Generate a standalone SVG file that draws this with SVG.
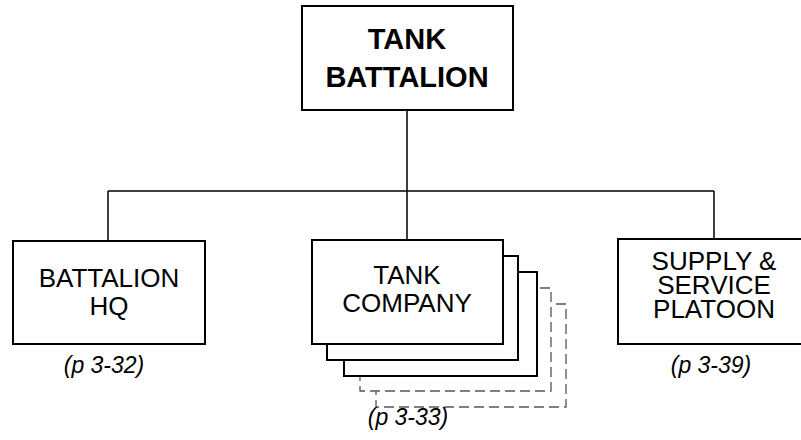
<svg xmlns="http://www.w3.org/2000/svg" width="801" height="440" viewBox="0 0 801 440">
<style>
.box{fill:#fff;stroke:#000;stroke-width:2}
.dash{fill:#fff;stroke:#555;stroke-width:1.3;stroke-dasharray:10 5}
.lbl{font-family:"Liberation Sans",Arial,sans-serif;font-size:26px;fill:#000;text-anchor:middle}
.big{font-family:"Liberation Sans",Arial,sans-serif;font-size:29px;font-weight:bold;fill:#000;text-anchor:middle}
.cap{font-family:"Liberation Sans",Arial,sans-serif;font-size:23px;font-style:italic;fill:#000;text-anchor:middle}
.conn{fill:none;stroke:#000;stroke-width:1.5}
</style>
<rect width="801" height="440" fill="#fff"/>
<g id="connectors">
<path class="conn" d="M407,110 V191 M108,191 H714 M108,191 V241 M407,191 V240 M714,191 V239"/>
</g>
<g id="tank-battalion">
<rect class="box" x="302" y="6" width="211" height="104"/>
<text class="big" x="407" y="49">TANK</text>
<text class="big" x="407" y="87">BATTALION</text>
</g>
<g id="battalion-hq">
<rect class="box" x="13" y="241" width="192" height="103"/>
<text class="lbl" x="109" y="287">BATTALION</text>
<text class="lbl" x="109" y="315">HQ</text>
<text class="cap" x="104" y="373">(p 3-32)</text>
</g>
<g id="tank-company">
<rect class="dash" x="376" y="304" width="190" height="103"/>
<rect class="dash" x="360" y="288" width="191" height="103"/>
<rect class="box" x="344" y="272" width="193" height="104"/>
<rect class="box" x="327" y="256" width="191" height="104"/>
<rect class="box" x="312" y="240" width="191" height="104"/>
<text class="lbl" x="407" y="284">TANK</text>
<text class="lbl" x="407" y="312">COMPANY</text>
<text class="cap" x="408" y="425">(p 3-33)</text>
</g>
<g id="supply-service-platoon">
<rect class="box" x="618" y="239" width="192" height="105"/>
<text class="lbl" x="714" y="270">SUPPLY &amp;</text>
<text class="lbl" x="714" y="294">SERVICE</text>
<text class="lbl" x="714" y="318">PLATOON</text>
<text class="cap" x="711" y="373">(p 3-39)</text>
</g>
</svg>
